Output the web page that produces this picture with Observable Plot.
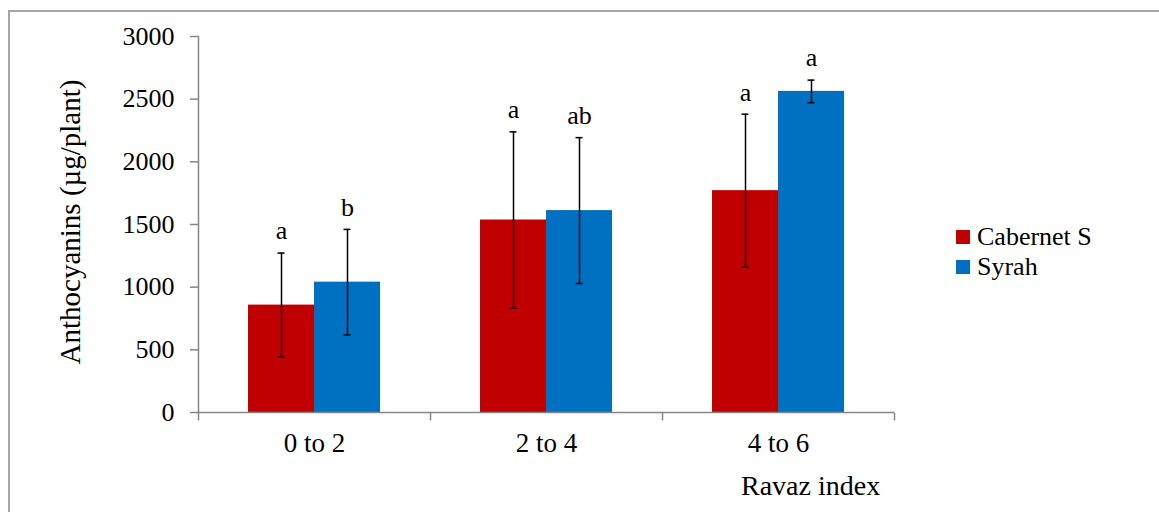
<!DOCTYPE html>
<html>
<head>
<meta charset="utf-8">
<script src="https://cdn.jsdelivr.net/npm/d3@7"></script>
<script src="https://cdn.jsdelivr.net/npm/@observablehq/plot@0.6"></script>
<style>
  html, body { margin: 0; padding: 0; background: #fff; }
  #wrap { position: relative; width: 1159px; height: 512px; overflow: hidden; font-family: "Liberation Serif", "Times New Roman", serif; }
  #border { position: absolute; left: 8px; top: 10px; width: 1200px; height: 600px; border-top: 2px solid #a6a6a6; border-left: 2px solid #a6a6a6; box-sizing: border-box; }
  #chart { position: absolute; left: 0; top: 0; }
  .legend { position: absolute; left: 956px; top: 222px; font-size: 26px; color: #000; }
  .legend .item { display: flex; align-items: center; height: 30px; }
  .legend .sw { width: 14px; height: 14px; margin-right: 7px; }
  #xlabel { position: absolute; left: 741px; top: 470px; font-size: 28px; color: #000; white-space: nowrap; }
  #ylabel { position: absolute; left: 70px; top: 222px; font-size: 29px; color: #000; white-space: nowrap; transform: translate(-50%, -50%) rotate(-90deg); }
</style>
</head>
<body>
<div id="wrap">
  <div id="border"></div>
  <div id="chart"></div>
  <div class="legend" id="legend"></div>
  <div id="xlabel">Ravaz index</div>
  <div id="ylabel">Anthocyanins (µg/plant)</div>
</div>
<script>
const categories = ["0 to 2", "2 to 4", "4 to 6"];
const seriesNames = ["Cabernet S", "Syrah"];
const colors = ["#C00000", "#0070C0"];
const cabernetValues = [857, 1536, 1770];
const cabernetSD = [415, 703, 610];
const syrahValues = [1040, 1611, 2562];
const syrahSD = [421, 582, 90];
const cabernetLetters = ["a", "a", "a"];
const syrahLetters = ["b", "ab", "a"];
const yTicks = [0, 500, 1000, 1500, 2000, 2500, 3000];

const rows = [];
categories.forEach((c, i) => {
  rows.push({cat: c, series: seriesNames[0], value: cabernetValues[i], sd: cabernetSD[i], letter: cabernetLetters[i]});
  rows.push({cat: c, series: seriesNames[1], value: syrahValues[i], sd: syrahSD[i], letter: syrahLetters[i]});
});

const gray = "#868686";
const tickSymbol = { draw(ctx) { ctx.moveTo(0, 0); ctx.lineTo(0, 8); } };

const chart = Plot.plot({
  width: 1159,
  height: 512,
  marginLeft: 197,
  marginRight: 264,
  marginTop: 36,
  marginBottom: 100,
  style: { fontFamily: "Liberation Serif, Times New Roman, serif", fontSize: "26px", color: "#000", background: "transparent" },
  fx: { domain: categories, padding: 0, label: null },
  x: { domain: seriesNames, paddingInner: 0, paddingOuter: 0.736, axis: null },
  y: { domain: [0, 3000], axis: null },
  color: { domain: seriesNames, range: colors },
  marks: [
    Plot.barY(rows, { fx: "cat", x: "series", y: "value", fill: "series" }),
    Plot.ruleX(rows, { fx: "cat", x: "series", y1: d => d.value - d.sd, y2: d => d.value + d.sd, stroke: "#000", strokeWidth: 1.5 }),
    Plot.tickY(rows, { fx: "cat", x: "series", y: d => d.value + d.sd, stroke: "#000", strokeWidth: 1.5, insetLeft: 29.5, insetRight: 29.5 }),
    Plot.tickY(rows, { fx: "cat", x: "series", y: d => d.value - d.sd, stroke: "#000", strokeWidth: 1.5, insetLeft: 29.5, insetRight: 29.5 }),
    Plot.text(rows, { fx: "cat", x: "series", y: d => d.value + d.sd, text: "letter", dy: -22, fontSize: 26, fill: "#000" }),
    Plot.ruleY([0], { stroke: gray, strokeWidth: 1.5 }),
    Plot.frame({ anchor: "left", stroke: gray, strokeWidth: 1.5, facetAnchor: "left" }),
    Plot.dot(categories, { fx: d => d, frameAnchor: "bottom-left", symbol: tickSymbol, stroke: gray, strokeWidth: 1.5, fill: "none" }),
    Plot.dot(categories.slice(-1), { fx: d => d, frameAnchor: "bottom-right", symbol: tickSymbol, stroke: gray, strokeWidth: 1.5, fill: "none" }),
    Plot.axisY({ ticks: yTicks, tickSize: 8, tickPadding: 16, stroke: gray, strokeWidth: 1.5, tickFormat: d => String(d), fontSize: 26, fill: "#000", label: null }),
    Plot.axisFx({ anchor: "bottom", tickSize: 0, tickPadding: 20, fontSize: 27, fill: "#000", label: null })
  ]
});
document.getElementById("chart").appendChild(chart);

const legend = document.getElementById("legend");
seriesNames.forEach((s, i) => {
  const item = document.createElement("div");
  item.className = "item";
  const sw = document.createElement("div");
  sw.className = "sw";
  sw.style.background = colors[i];
  const t = document.createElement("span");
  t.textContent = s;
  item.appendChild(sw);
  item.appendChild(t);
  legend.appendChild(item);
});
</script>
</body>
</html>
